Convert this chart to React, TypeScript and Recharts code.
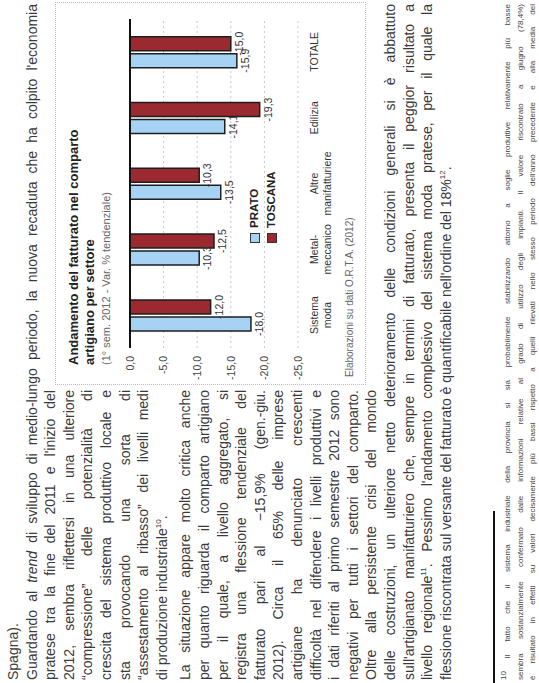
import React from "react";
import {
  BarChart,
  Bar,
  XAxis,
  YAxis,
  CartesianGrid,
  ReferenceLine,
  LabelList,
} from "recharts";

// sectors, left to right
const sectors = ["Sistema moda", "Metalmeccanico", "Altre manifatturiere", "Edilizia", "TOTALE"];
const sectorLines = [["Sistema", "moda"], ["Metal-", "meccanico"], ["Altre", "manifatturiere"], ["Edilizia"], ["TOTALE"]];
const prato = [-18.0, -10.3, -13.5, -14.1, -15.9];
const toscana = [-12.0, -12.5, -10.3, -19.3, -15.0];
const yTicks = [0, -5, -10, -15, -20, -25];

const data = sectors.map((s, i) => ({ name: s, prato: prato[i], toscana: toscana[i] }));

const BLUE = "#a6d3f4";
const RED = "#9a2a2f";
const TXT = "#3a3a3a";

const fmt = (v: number) => v.toFixed(1).replace(".", ",");

function CatTick(props: any) {
  const { x, y, payload } = props;
  const idx = sectors.indexOf(payload.value);
  const lines = sectorLines[idx] || [payload.value];
  return (
    <text x={x} y={y} textAnchor="middle" fontSize={10.5} fill="#333">
      {lines.map((l, i) => (
        <tspan key={i} x={x} dy={i === 0 ? 12 : 13}>
          {l}
        </tspan>
      ))}
    </text>
  );
}

function ValLabel(props: any) {
  const { x, y, width, height, value } = props;
  const bottom = Math.max(Number(y), Number(y) + Number(height));
  return (
    <text x={Number(x) + Number(width) / 2} y={bottom + 12} textAnchor="middle" fontSize={10.5} fill="#333">
      {fmt(Number(value))}
    </text>
  );
}

// page text (page is drawn upright, then turned)
type Line = { t: React.ReactNode; full?: boolean; last?: boolean; gap?: boolean };
const sup = (s: string) => <sup style={{ fontSize: 8, lineHeight: 0 }}>{s}</sup>;

const lines: Line[] = [
  { t: "Spagna).", last: true },
  { t: <>Guardando al <i>trend</i> di sviluppo di medio-lungo periodo, la nuova recaduta che ha colpito l'economia</>, full: true },
  { t: "pratese tra la fine del 2011 e l'inizio del" },
  { t: "2012, sembra riflettersi in una ulteriore" },
  { t: "“compressione” delle potenzialità di" },
  { t: "crescita del sistema produttivo locale e" },
  { t: "sta provocando una sorta di" },
  { t: "“assestamento al ribasso” dei livelli medi" },
  { t: <>di produzione industriale{sup("10")}.</>, last: true },
  { t: "La situazione appare molto critica anche", gap: true },
  { t: "per quanto riguarda il comparto artigiano" },
  { t: "per il quale, a livello aggregato, si" },
  { t: "registra una flessione tendenziale del" },
  { t: "fatturato pari al −15,9% (gen.-giu." },
  { t: "2012). Circa il 65% delle imprese" },
  { t: "artigiane ha denunciato crescenti" },
  { t: "difficoltà nel difendere i livelli produttivi e" },
  { t: "i dati riferiti al primo semestre 2012 sono" },
  { t: "negativi per tutti i settori del comparto." },
  { t: "Oltre alla persistente crisi del mondo" },
  { t: "delle costruzioni, un ulteriore netto deterioramento delle condizioni generali si è abbattuto", full: true },
  { t: "sull'artigianato manifatturiero che, sempre in termini di fatturato, presenta il peggior risultato a", full: true },
  { t: <>livello regionale{sup("11")}. Pessimo l'andamento complessivo del sistema moda pratese, per il quale la</>, full: true },
  { t: <>flessione riscontrata sul versante del fatturato è quantificabile nell'ordine del 18%{sup("12")}.</>, full: true, last: true },
];

const notes = [
  <>{sup("10")} Il fatto che il sistema industriale della provincia si sia probabilmente stabilizzando attorno a soglie produttive relativamente più basse</>,
  "sembra sostanzialmente confermato dalle informazioni relative al grado di utilizzo degli impianti. Il valore riscontrato a giugno (78,4%)",
  "è risultato in effetti su valori decisamente più bassi rispetto a quelli rilevati nello stesso periodo dell'anno precedente e alla media del",
];

function Page() {
  let y = 6;
  const tops = lines.map((l, i) => {
    if (i > 0) y += l.gap ? 23.6 : 18.6;
    return y;
  });
  return (
    <div style={{ position: "absolute", left: 0, top: 0, width: 683, height: 539, background: "#fff", fontFamily: "'Liberation Sans', Arial, sans-serif", color: TXT }}>
      {lines.map((l, i) => (
        <div
          key={i}
          style={{
            position: "absolute",
            left: 3,
            top: tops[i],
            width: l.full ? 676 : 290,
            fontSize: 14,
            lineHeight: "15px",
            textAlign: l.last ? "left" : "justify",
            textAlignLast: l.last ? "left" : "justify",
          }}
        >
          {l.t}
        </div>
      ))}

      <div style={{ position: "absolute", left: 0, top: 493, width: 172, height: 2, background: "#111" }} />
      {notes.map((n, i) => (
        <div
          key={i}
          style={{
            position: "absolute",
            left: 3,
            top: 503 + i * 12.5,
            width: 676,
            fontSize: 8,
            lineHeight: "10px",
            textAlign: "justify",
            textAlignLast: "justify",
            color: "#444",
          }}
        >
          {n}
        </div>
      ))}

      {/* chart box */}
      <div style={{ position: "absolute", left: 298, top: 55, width: 383, height: 311, border: "1px dotted #bbb", boxSizing: "border-box" }} />
      <div style={{ position: "absolute", left: 318, top: 66, fontSize: 13, fontWeight: "bold", lineHeight: "16px", color: "#222" }}>
        Andamento del fatturato nel comparto
        <br />
        artigiano per settore
      </div>
      <div style={{ position: "absolute", left: 318, top: 100, fontSize: 11, color: "#666" }}>
        (1° sem. 2012 - Var. % tendenziale)
      </div>

      <div style={{ position: "absolute", left: 285, top: 100 }}>
        <BarChart
          width={387}
          height={240}
          data={data}
          margin={{ top: 30, right: 8, left: 0, bottom: 0 }}
          barCategoryGap="26%"
          barGap={3}
        >
          <CartesianGrid vertical={false} stroke="#c8c8c8" strokeDasharray="2 3" />
          <XAxis
            dataKey="name"
            axisLine={false}
            tickLine={false}
            height={42}
            interval={0}
            tick={<CatTick />}
          />
          <YAxis
            domain={[-25, 0]}
            ticks={yTicks}
            interval={0}
            width={50}
            axisLine={false}
            tickLine={false}
            tickFormatter={fmt}
            tick={{ fontSize: 10.5, fill: "#444" }}
          />
          <ReferenceLine y={0} stroke="#111" strokeWidth={2} />
          <Bar dataKey="prato" fill={BLUE} stroke="#1e1e1e" strokeWidth={1.5} isAnimationActive={false}>
            <LabelList dataKey="prato" content={<ValLabel />} />
          </Bar>
          <Bar dataKey="toscana" fill={RED} stroke="#1e1e1e" strokeWidth={1.5} isAnimationActive={false}>
            <LabelList dataKey="toscana" content={<ValLabel />} />
          </Bar>
        </BarChart>
      </div>

      {/* legend */}
      <div style={{ position: "absolute", left: 440, top: 246, fontSize: 11.5, fontWeight: "bold", color: "#222", lineHeight: "17px" }}>
        <div style={{ display: "flex", alignItems: "center", gap: 5 }}>
          <span style={{ width: 8, height: 8, background: BLUE, border: "1px solid #333", display: "inline-block" }} />
          PRATO
        </div>
        <div style={{ display: "flex", alignItems: "center", gap: 5 }}>
          <span style={{ width: 8, height: 8, background: RED, border: "1px solid #333", display: "inline-block" }} />
          TOSCANA
        </div>
      </div>

      <div style={{ position: "absolute", left: 306, top: 344, fontSize: 10, color: "#666" }}>
        Elaborazioni su dati O.R.T.A. (2012)
      </div>
    </div>
  );
}

export default function App() {
  return (
    <div style={{ position: "absolute", left: 0, top: 0, width: 539, height: 683, overflow: "hidden", background: "#fff" }}>
      <div style={{ position: "absolute", left: 0, top: 0, width: 683, height: 539, transformOrigin: "0 0", transform: "translate(0px, 683px) rotate(-90deg)" }}>
        <Page />
      </div>
    </div>
  );
}
